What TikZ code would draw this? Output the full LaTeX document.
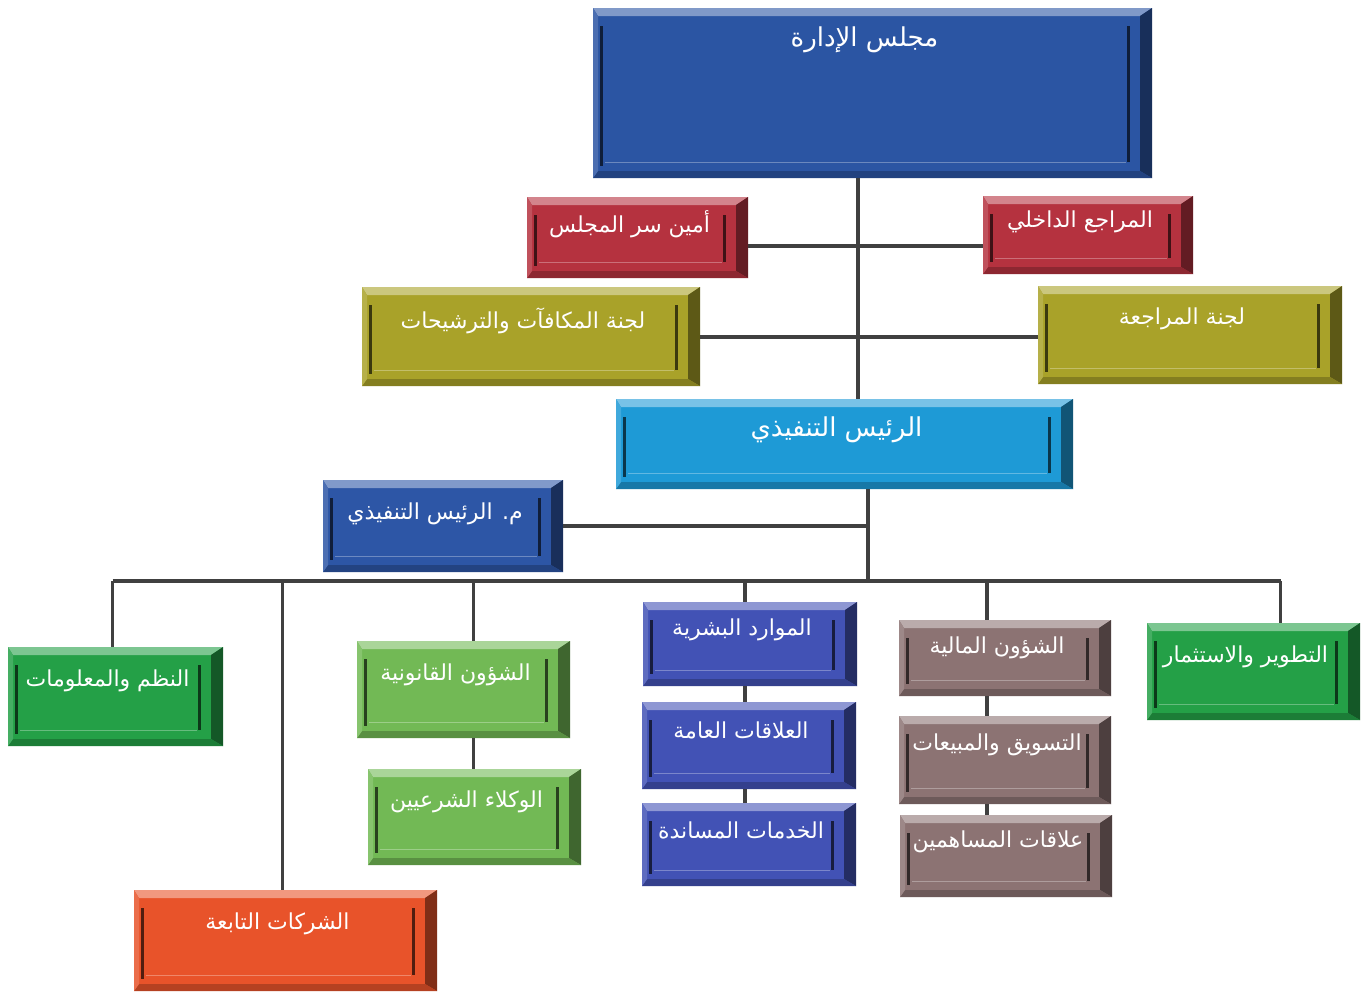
\documentclass[tikz,border=0pt]{standalone}
\usepackage{fontspec}
\usetikzlibrary{fit,calc}
\TeXXeTstate=1
\newfontfamily\arabicfont[Script=Arabic]{DejaVu Sans}
\definecolor{cBoard}{HTML}{2B55A3}
\definecolor{cRed}{HTML}{B5323F}
\definecolor{cOlive}{HTML}{A9A229}
\definecolor{cCeo}{HTML}{1E9AD6}
\definecolor{cDep}{HTML}{2D56A6}
\definecolor{cGreen}{HTML}{24A047}
\definecolor{cLight}{HTML}{72B955}
\definecolor{cOrange}{HTML}{E8532A}
\definecolor{cPurple}{HTML}{4252B5}
\definecolor{cMauve}{HTML}{8C7373}
\definecolor{cLine}{HTML}{404040}
\tikzset{
  boxbase/.style={inner sep=0pt, outer sep=0pt, draw=none},
  lbl/.style={text=white, font=\arabicfont\fontsize{11}{13}\selectfont, inner sep=0pt},
  biglbl/.style={text=white, font=\arabicfont\fontsize{13}{15}\selectfont, inner sep=0pt},
  conn/.style={draw=cLine, line width=1.9pt},
}
% name, x1, y1, x2, y2, colour, text y, text, label style
\newcommand\orgbox[9]{%
  \node[boxbase, fill=#6, fit={(#2,#3) (#4,#5)}] (#1) {};
  \fill[#6!60!white] (#2,#3) -- (#4,#3) -- (#4-12,#3+8) -- (#2+5,#3+8) -- cycle;
  \fill[#6!55!black] (#4,#3) -- (#4,#5) -- (#4-12,#5-7) -- (#4-12,#3+8) -- cycle;
  \fill[#6!78!black] (#2,#5) -- (#4,#5) -- (#4-12,#5-7) -- (#2+5,#5-7) -- cycle;
  \fill[#6!85!white] (#2,#3) -- (#2+5,#3+8) -- (#2+5,#5-7) -- (#2,#5) -- cycle;
  \draw[#6!70!white, line width=0.5pt] (#2+12,#5-16) -- (#4-26,#5-16);
  \fill[#6!35!black] (#2+7,#3+18) rectangle (#2+10,#5-12);
  \fill[#6!35!black] (#4-25,#3+18) rectangle (#4-22,#5-16);
  \node[#9] (#1-t) at ({(#2+#4)/2-8},#7) {#8};
}
\begin{document}
\begin{tikzpicture}[x=0.5pt,y=-0.5pt]
\useasboundingbox[fill=white] (0,0) rectangle (1369,991);

\orgbox{board}{593}{8}{1152}{178}{cBoard}{40}{\beginR مجلس الإدارة\endR}{biglbl}
\orgbox{sec}{527}{197}{748}{278}{cRed}{224}{\beginR أمين سر المجلس\endR}{lbl}
\orgbox{aud}{983}{196}{1193}{274}{cRed}{222}{\beginR المراجع الداخلي\endR}{lbl}
\orgbox{rem}{362}{287}{700}{386}{cOlive}{321}{\beginR لجنة المكافآت والترشيحات\endR}{lbl}
\orgbox{auditc}{1038}{286}{1342}{384}{cOlive}{319}{\beginR لجنة المراجعة\endR}{lbl}
\orgbox{ceo}{616}{399}{1073}{489}{cCeo}{430}{\beginR الرئيس التنفيذي\endR}{biglbl}
\orgbox{dep}{323}{480}{563}{572}{cDep}{514}{\beginR م. الرئيس التنفيذي\endR}{lbl}
\orgbox{sys}{8}{647}{223}{746}{cGreen}{681}{\beginR النظم والمعلومات\endR}{lbl}
\orgbox{legal}{357}{641}{570}{738}{cLight}{675}{\beginR الشؤون القانونية\endR}{lbl}
\orgbox{agents}{368}{769}{581}{865}{cLight}{802}{\beginR الوكلاء الشرعيين\endR}{lbl}
\orgbox{subs}{134}{890}{437}{991}{cOrange}{924}{\beginR الشركات التابعة\endR}{lbl}
\orgbox{hr}{643}{602}{857}{686}{cPurple}{630}{\beginR الموارد البشرية\endR}{lbl}
\orgbox{pr}{642}{702}{856}{789}{cPurple}{730}{\beginR العلاقات العامة\endR}{lbl}
\orgbox{supp}{642}{803}{856}{886}{cPurple}{830}{\beginR الخدمات المساندة\endR}{lbl}
\orgbox{fin}{899}{620}{1111}{696}{cMauve}{648}{\beginR الشؤون المالية\endR}{lbl}
\orgbox{mkt}{899}{716}{1111}{804}{cMauve}{745}{\beginR التسويق والمبيعات\endR}{lbl}
\orgbox{share}{900}{815}{1112}{897}{cMauve}{842}{\beginR علاقات المساهمين\endR}{lbl}
\orgbox{dev}{1147}{623}{1360}{720}{cGreen}{657}{\beginR التطوير والاستثمار\endR}{lbl}

\coordinate (spine) at (858,0);
\coordinate (spineB) at (868,0);
\coordinate (bus) at (0,581);
\coordinate (hA) at (0,246);
\coordinate (hB) at (0,337);
\coordinate (dSys) at ($(sys.north)+(-3,0)$);
\coordinate (dSubs) at ($(subs.north)+(-3,0)$);
\coordinate (dLegal) at ($(legal.north)+(10,0)$);
\coordinate (dHr) at ($(hr.north)+(-5,0)$);
\coordinate (dPr) at ($(pr.south)+(-4,0)$);
\coordinate (dFin) at ($(fin.north)+(-18,0)$);
\coordinate (dDev) at ($(dev.north)+(27,0)$);

% board to CEO
\draw[conn] (spine |- board.south) -- (spine |- ceo.north);
\draw[conn] (sec.east |- hA) -- (aud.west |- hA);
\draw[conn] (rem.east |- hB) -- (auditc.west |- hB);
% CEO down to bus
\draw[conn] (spineB |- ceo.south) -- (spineB |- bus);
\draw[conn] (dep.east) -- (dep.east -| spineB);
% bus and drops
\draw[conn] (dSys |- bus) -- (dDev |- bus);
\draw[conn] (dSys |- bus) -- (dSys);
\draw[conn] (dSubs |- bus) -- (dSubs);
\draw[conn] (dLegal |- bus) -- (dLegal);
\draw[conn] (dHr |- bus) -- (dHr);
\draw[conn] (dFin |- bus) -- (dFin);
\draw[conn] (dDev |- bus) -- (dDev);
% stacks
\draw[conn] (dLegal |- legal.south) -- (dLegal |- agents.north);
\draw[conn] (dHr |- hr.south) -- (dHr |- pr.north);
\draw[conn] (dPr) -- (dPr |- supp.north);
\draw[conn] (dFin |- fin.south) -- (dFin |- mkt.north);
\draw[conn] (dFin |- mkt.south) -- (dFin |- share.north);
\end{tikzpicture}
\end{document}
